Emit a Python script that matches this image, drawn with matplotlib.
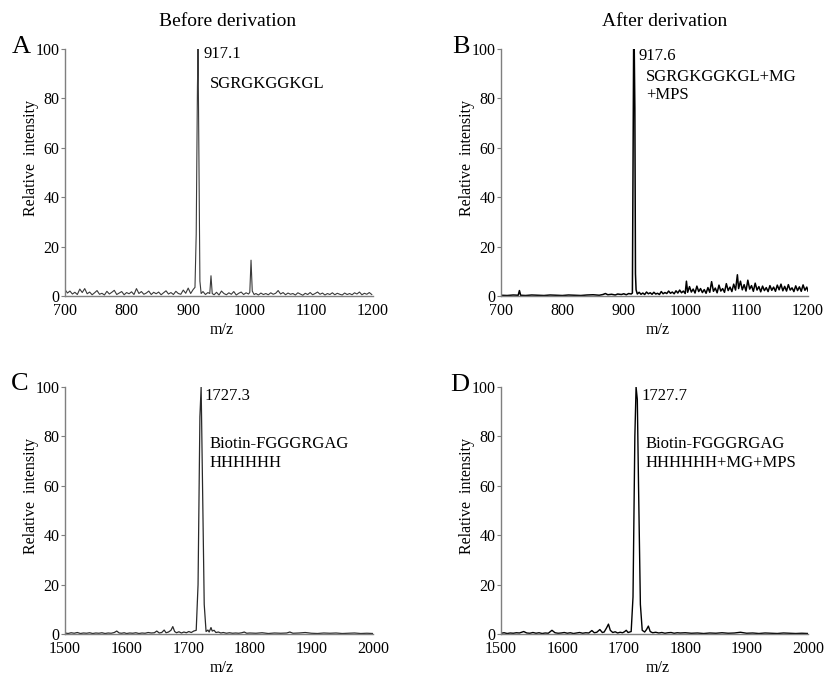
import matplotlib
matplotlib.use("Agg")
import matplotlib.pyplot as plt

plt.rcParams["font.family"] = ["Liberation Serif", "DejaVu Serif"]

# Panel A: before derivation, peptide SGRGKGGKGL
mz_a = [700, 704, 708, 712, 716, 720, 724, 728, 732, 736, 740, 744, 748, 752,
        756, 760, 764, 768, 772, 776, 780, 784, 788, 792, 796, 800, 804, 808,
        812, 816, 820, 824, 828, 832, 836, 840, 844, 848, 852, 856, 860, 864,
        868, 872, 876, 880, 884, 888, 892, 896, 900, 904, 908, 911, 913, 915,
        916, 917, 919, 921, 924, 928, 932, 935, 937, 939, 942, 946, 950, 954,
        958, 962, 966, 970, 974, 978, 982, 986, 990, 994, 998, 1000, 1002,
        1004, 1007, 1010, 1014, 1018, 1022, 1026, 1030, 1034, 1038, 1042,
        1046, 1050, 1054, 1058, 1062, 1066, 1070, 1074, 1078, 1082, 1086,
        1090, 1094, 1098, 1102, 1106, 1110, 1114, 1118, 1122, 1126, 1130,
        1134, 1138, 1142, 1146, 1150, 1154, 1158, 1162, 1166, 1170, 1174,
        1178, 1182, 1186, 1190, 1194, 1198]
int_a = [2.6, 1.2, 2.0, 0.8, 1.5, 0.6, 2.8, 1.4, 3.0, 0.9, 1.6, 0.5, 1.3, 2.2,
         0.7, 1.1, 0.4, 1.9, 0.8, 1.5, 2.3, 0.6, 1.2, 1.8, 0.5, 1.4, 0.9, 1.7,
         0.6, 3.0, 1.0, 1.8, 0.7, 1.2, 2.0, 0.6, 1.5, 0.9, 1.6, 0.5, 1.3, 2.1,
         0.8, 1.4, 0.6, 1.9, 1.0, 0.7, 2.4, 1.1, 3.2, 1.0, 2.6, 3.5, 25, 85,
         100, 70, 6, 1.0, 1.8, 0.6, 1.4, 1.0, 8.2, 1.0, 0.5, 1.5, 0.4, 2.0,
         1.0, 0.5, 1.3, 0.7, 1.8, 0.4, 1.1, 1.6, 0.6, 1.3, 0.8, 1.5, 14.5,
         2.0, 0.6, 1.0, 0.4, 1.2, 0.6, 1.0, 0.5, 1.3, 0.7, 1.1,
         2.2, 0.8, 1.4, 0.5, 1.2, 0.7, 1.0, 0.4, 1.3, 0.8, 0.3,
         1.1, 0.6, 1.4, 0.5, 1.0, 1.6, 0.7, 1.2, 0.4, 1.0, 0.6,
         1.3, 0.5, 1.1, 0.7, 0.4, 1.2, 0.6, 1.0, 0.5, 1.3, 0.8,
         1.6, 0.5, 1.1, 0.7, 1.4, 0.6]

# Panel B: after derivation, SGRGKGGKGL+MG+MPS
mz_b = [700, 710, 720, 728, 730, 732, 740, 750, 760, 770, 780, 790, 800, 810,
        820, 830, 840, 850, 860, 866, 870, 874, 880, 886, 890, 896, 900, 904,
        908, 912, 914, 915, 916, 917, 918, 919, 920, 922, 925, 928, 931, 934,
        937, 940, 943, 946, 949, 952, 955, 958, 961, 964, 967, 970, 973, 976,
        979, 982, 985, 988, 991, 994, 997, 1000, 1002, 1004, 1007, 1010, 1013,
        1016, 1019, 1022, 1025, 1028, 1031, 1034, 1037, 1040, 1043, 1046,
        1049, 1052, 1055, 1058, 1061, 1064, 1067, 1070, 1073, 1076, 1079,
        1082, 1085, 1087, 1090, 1093, 1096, 1099, 1102, 1105, 1108, 1111,
        1114, 1117, 1120, 1123, 1126, 1129, 1132, 1135, 1138, 1141, 1144,
        1147, 1150, 1153, 1156, 1159, 1162, 1165, 1168, 1171, 1174, 1177,
        1180, 1183, 1186, 1189, 1192, 1195, 1198, 1200]
int_b = [0.3, 0.2, 0.4, 0.3, 2.2, 0.3, 0.2, 0.4, 0.3, 0.2, 0.4, 0.3, 0.2, 0.4,
         0.3, 0.2, 0.4, 0.5, 0.3, 0.6, 1.0, 0.5, 0.7, 0.4, 0.8, 0.6, 0.9, 0.5,
         1.0, 0.8, 1.2, 52, 100, 100, 76, 9, 2.5, 0.8, 1.5, 0.7, 1.2, 0.6,
         1.6, 0.9, 1.3, 0.7, 1.5, 0.8, 1.1, 0.6, 1.8, 0.9, 1.4, 1.0, 2.0, 1.1,
         1.6, 0.9, 2.1, 1.2, 2.4, 1.3, 2.0, 1.0, 6.0, 1.5, 3.8, 1.6, 2.8,
         1.2, 4.0, 1.8, 3.0, 1.4, 2.6, 1.1, 3.4, 1.5, 5.8, 1.9,
         3.2, 1.3, 4.4, 2.0, 3.0, 1.5, 5.0, 2.2, 3.6, 1.8, 4.8,
         2.4, 8.6, 3.0, 6.0, 2.5, 4.6, 2.0, 6.4, 2.8, 4.2, 1.9,
         5.2, 2.4, 3.8, 1.7, 4.0, 2.2, 3.4, 1.8, 4.2, 2.3, 3.6,
         1.9, 4.4, 2.5, 4.8, 2.1, 3.9, 2.0, 4.6, 2.4, 3.3, 1.8,
         4.1, 2.2, 3.7, 1.9, 4.5, 2.3, 3.6, 2.0]

# Panel C: before derivation, Biotin-FGGGRGAGHHHHHH
mz_c = [1500, 1505, 1510, 1515, 1520, 1525, 1530, 1535, 1540, 1545, 1550,
        1555, 1560, 1565, 1570, 1575, 1580, 1584, 1588, 1592, 1596, 1600,
        1605, 1610, 1615, 1620, 1625, 1630, 1635, 1640, 1645, 1649, 1653,
        1657, 1661, 1664, 1668, 1672, 1675, 1678, 1681, 1685, 1689, 1693,
        1697, 1701, 1705, 1709, 1713, 1716, 1719, 1721, 1723, 1726, 1729,
        1732, 1734, 1737, 1739, 1742, 1745, 1749, 1753, 1757, 1762, 1767,
        1772, 1777, 1782, 1787, 1791, 1795, 1800, 1810, 1820, 1830, 1840,
        1850, 1860, 1865, 1870, 1880, 1890, 1900, 1910, 1920, 1930, 1940,
        1950, 1960, 1970, 1980, 1990, 2000]
int_c = [0.4, 0.2, 0.5, 0.3, 0.6, 0.2, 0.4, 0.3, 0.5, 0.2, 0.4,
         0.3, 0.5, 0.2, 0.4, 0.3, 0.6, 1.2, 0.4, 0.3, 0.5, 0.2,
         0.4, 0.3, 0.5, 0.2, 0.4, 0.3, 0.6, 0.4, 0.5, 1.2, 0.4,
         0.6, 1.6, 0.5, 0.8, 1.5, 3.0, 1.0, 0.5, 0.9, 0.4, 0.8,
         0.5, 1.0, 0.6, 1.2, 1.5, 20, 88, 100, 65, 12, 1.0,
         1.6, 0.8, 2.6, 1.2, 1.5, 0.6, 0.8, 0.4, 0.6, 0.3, 0.5,
         0.3, 0.4, 0.3, 0.5, 0.8, 0.3, 0.4, 0.3, 0.5, 0.2, 0.4,
         0.3, 0.4, 0.8, 0.3, 0.4, 0.6, 0.3, 0.2, 0.4, 0.3, 0.4,
         0.2, 0.3, 0.4, 0.2, 0.3, 0.2]

# Panel D: after derivation, Biotin-FGGGRGAGHHHHHH+MG+MPS
mz_d = [1500, 1505, 1510, 1515, 1520, 1525, 1530, 1537, 1542, 1547, 1552,
        1557, 1562, 1567, 1572, 1577, 1583, 1588, 1593, 1598, 1603, 1608,
        1613, 1618, 1623, 1628, 1633, 1638, 1643, 1648, 1652, 1656, 1661,
        1665, 1668, 1672, 1675, 1678, 1682, 1686, 1690, 1694, 1698, 1701,
        1704, 1707, 1712, 1715, 1718, 1720, 1722, 1724, 1727, 1730, 1734,
        1737, 1740, 1743, 1747, 1752, 1757, 1762, 1767, 1772, 1777, 1782,
        1787, 1792, 1800, 1810, 1820, 1830, 1840, 1850, 1860, 1870, 1880,
        1890, 1900, 1910, 1920, 1930, 1940, 1950, 1960, 1970, 1980, 1990,
        2000]
int_d = [0.3, 0.5, 0.2, 0.4, 0.3, 0.5, 0.4, 1.0, 0.4, 0.3, 0.6,
         0.3, 0.5, 0.2, 0.4, 0.3, 1.5, 0.5, 0.3, 0.4, 0.6, 0.3,
         0.5, 0.2, 0.4, 0.6, 0.3, 0.5, 0.4, 1.4, 0.5, 0.7, 1.8,
         0.6, 0.8, 2.5, 4.0, 1.5, 0.6, 0.9, 0.4, 0.7, 0.5, 0.9,
         1.5, 0.6, 1.0, 15, 80, 100, 95, 60, 12, 1.5, 0.8,
         1.8, 3.2, 1.0, 0.5, 0.7, 0.4, 0.6, 0.3, 0.5, 0.6, 0.3,
         0.5, 0.4, 0.5, 0.3, 0.4, 0.2, 0.4, 0.3, 0.5, 0.3, 0.4,
         0.7, 0.3, 0.4, 0.2, 0.4, 0.3, 0.2, 0.4, 0.3, 0.2, 0.3,
         0.2]

yticks = [0, 20, 40, 60, 80, 100]
xticks_top = [700, 800, 900, 1000, 1100, 1200]
xticks_bottom = [1500, 1600, 1700, 1800, 1900, 2000]

spine_color = "#7f7f7f"


def draw_panel(ax, mz, inten, xticks, color, lw):
    ax.plot(mz, inten, color=color, lw=lw)
    ax.set_xlim(xticks[0], xticks[-1])
    ax.set_ylim(0, 100)
    ax.set_xticks(xticks)
    ax.set_yticks(yticks)
    for side in ["top", "right"]:
        ax.spines[side].set_visible(False)
    for side in ["left", "bottom"]:
        ax.spines[side].set_color(spine_color)
        ax.spines[side].set_linewidth(1.0)
    ax.tick_params(axis="y", direction="out", length=3, width=0.8,
                   color=spine_color, pad=1, labelsize=11.5)
    ax.tick_params(axis="x", length=0, pad=5, labelsize=11.5)
    ax.set_ylabel("Relative  intensity", fontsize=11.5)
    ax.yaxis.set_label_coords(-0.085, 0.56)
    ax.set_xlabel("m/z", fontsize=11.5)
    ax.xaxis.set_label_coords(0.51, -0.105)


fig = plt.figure(figsize=(8.33, 6.82), dpi=100)
W, H = 833.0, 682.0

ax_a = fig.add_axes([65 / W, 1 - 296 / H, 308 / W, 247 / H])
ax_b = fig.add_axes([501 / W, 1 - 296 / H, 307 / W, 247 / H])
ax_c = fig.add_axes([65 / W, 1 - 634 / H, 308 / W, 247 / H])
ax_d = fig.add_axes([501 / W, 1 - 634 / H, 307 / W, 247 / H])

draw_panel(ax_a, mz_a, int_a, xticks_top, "#3a3a3a", 0.8)
draw_panel(ax_b, mz_b, int_b, xticks_top, "black", 1.1)
draw_panel(ax_c, mz_c, int_c, xticks_bottom, "#2a2a2a", 0.9)
draw_panel(ax_d, mz_d, int_d, xticks_bottom, "black", 1.0)

# peak labels
ax_a.text(924.5, 98, "917.1", fontsize=12, va="center", ha="left")
ax_a.text(935, 85.8, "SGRGKGGKGL", fontsize=12, va="center", ha="left")
ax_b.text(923.5, 97.2, "917.6", fontsize=12, va="center", ha="left")
ax_b.text(936, 85, "SGRGKGGKGL+MG\n+MPS", fontsize=12, va="center",
          ha="left", linespacing=1.2)
ax_c.text(1727, 96.4, "1727.3", fontsize=12, va="center", ha="left")
ax_c.text(1735, 73.1, "Biotin-FGGGRGAG\nHHHHHH", fontsize=12, va="center",
          ha="left", linespacing=1.2)
ax_d.text(1728, 96.4, "1727.7", fontsize=12, va="center", ha="left")
ax_d.text(1736, 73.1, "Biotin-FGGGRGAG\nHHHHHH+MG+MPS", fontsize=12,
          va="center", ha="left", linespacing=1.2)

# column titles and panel letters
fig.text(228 / W, 1 - 21 / H, "Before derivation", fontsize=14,
         ha="center", va="center")
fig.text(665 / W, 1 - 21 / H, "After derivation", fontsize=14,
         ha="center", va="center")
for letter, px, py in [("A", 21, 47), ("B", 461, 47), ("C", 20, 384),
                       ("D", 460, 385)]:
    fig.text(px / W, 1 - py / H, letter, fontsize=19, ha="center", va="center")

fig.savefig("out.png", dpi=100)
